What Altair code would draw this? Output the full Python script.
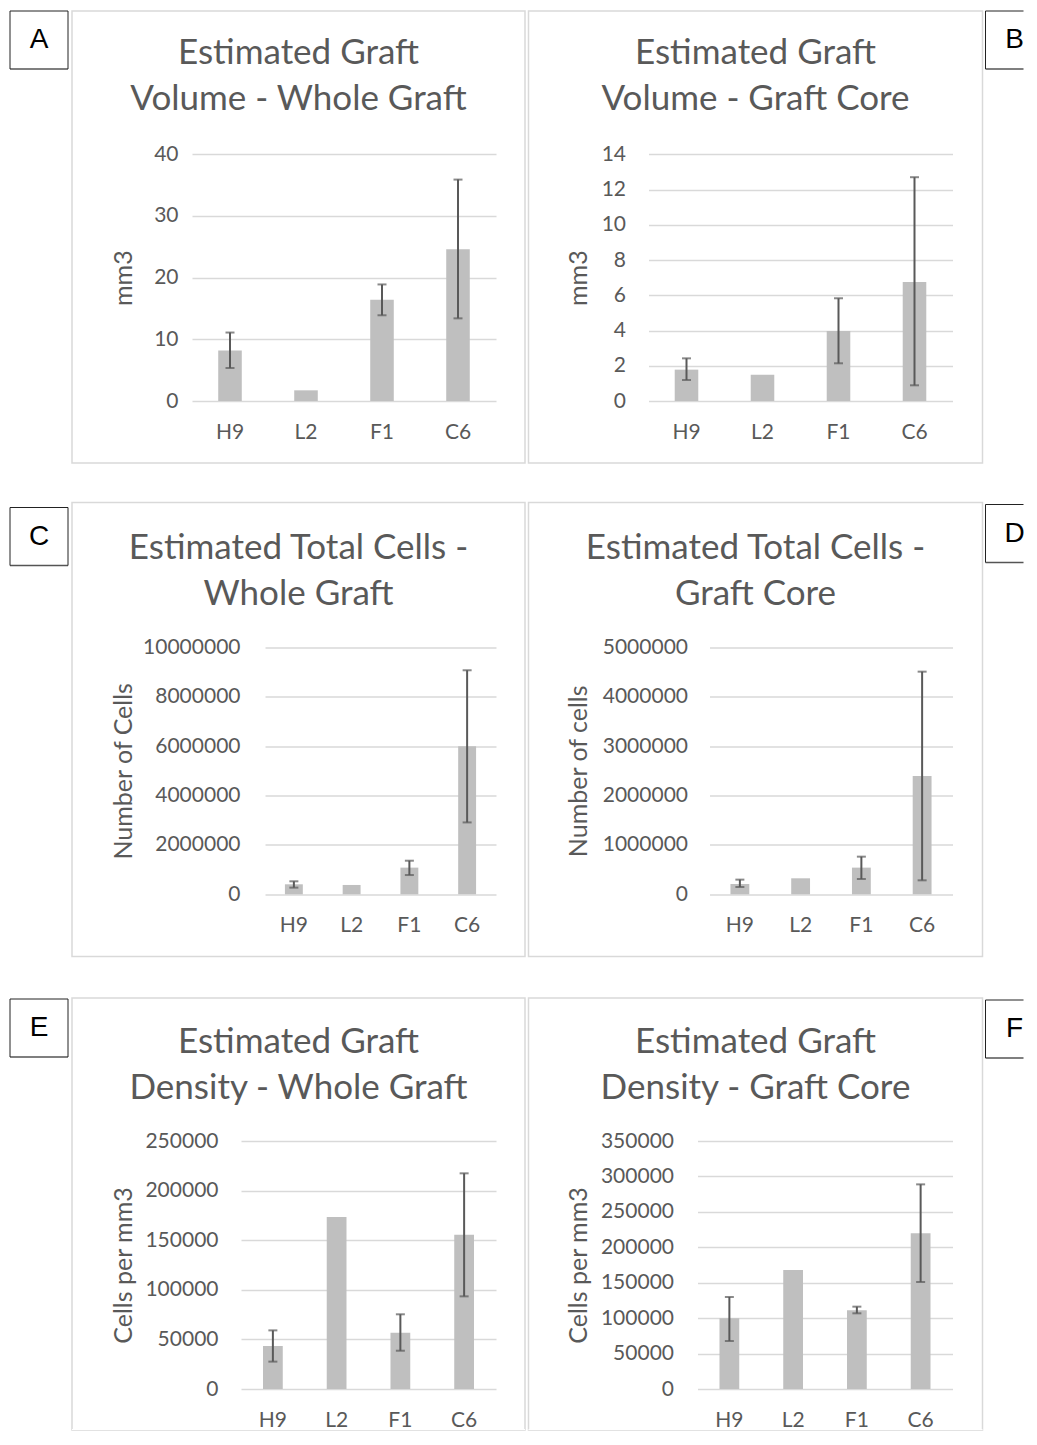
import altair as alt
import pandas as pd

# ---------------- data ----------------
categories = ["H9", "L2", "F1", "C6"]

vol_whole = [8.2, 1.73, 16.4, 24.6]
vol_whole_lo = [5.35, None, 13.9, 13.4]
vol_whole_hi = [11.1, None, 18.9, 35.9]

vol_core = [1.78, 1.49, 3.97, 6.75]
vol_core_lo = [1.19, None, 2.14, 0.89]
vol_core_hi = [2.42, None, 5.83, 12.7]

cells_whole = [405000, 378000, 1080000, 5990000]
cells_whole_lo = [270000, None, 780000, 2910000]
cells_whole_hi = [526000, None, 1360000, 9070000]

cells_core = [209000, 324000, 540000, 2395000]
cells_core_lo = [148000, None, 310000, 283000]
cells_core_hi = [297000, None, 762000, 4507000]

dens_whole = [43300, 173400, 56800, 155600]
dens_whole_lo = [27600, None, 38600, 93400]
dens_whole_hi = [59100, None, 75300, 217400]

dens_core = [99700, 167900, 111000, 219700]
dens_core_lo = [67700, None, 106800, 151000]
dens_core_hi = [129800, None, 116200, 288800]

ticks_vol_whole = [0, 10, 20, 30, 40]
ticks_vol_core = [0, 2, 4, 6, 8, 10, 12, 14]
ticks_cells_whole = [0, 2000000, 4000000, 6000000, 8000000, 10000000]
ticks_cells_core = [0, 1000000, 2000000, 3000000, 4000000, 5000000]
ticks_dens_whole = [0, 50000, 100000, 150000, 200000, 250000]
ticks_dens_core = [0, 50000, 100000, 150000, 200000, 250000, 300000, 350000]

titles = {
    "A": ["Estimated Graft", "Volume - Whole Graft"],
    "B": ["Estimated Graft", "Volume - Graft Core"],
    "C": ["Estimated Total Cells -", "Whole Graft"],
    "D": ["Estimated Total Cells -", "Graft Core"],
    "E": ["Estimated Graft", "Density - Whole Graft"],
    "F": ["Estimated Graft", "Density - Graft Core"],
}
ytitles = {"A": "mm3", "B": "mm3", "C": "Number of Cells", "D": "Number of cells",
           "E": "Cells per mm3", "F": "Cells per mm3"}

# ---------------- style ----------------
FONT = "Lato"
TXT = "#595959"
GRID = "#d9d9d9"
BAR = "#bfbfbf"
ERR = "#595959"
BOX = "#222222"

# layout per panel (pixels relative to panel box)
layout = {
    "A": dict(w=453, h=452, gx0=120, gx1=424, lab=106, tx=51, y0=390, y1=143.3, ty=42, cut=False),
    "B": dict(w=454, h=452, gx0=120, gx1=424, lab=97, tx=50, y0=390, y1=143.3, ty=42, cut=False),
    "C": dict(w=453, h=454, gx0=193, gx1=424, lab=168, tx=51, y0=391.8, y1=144.8, ty=45.5, cut=False),
    "D": dict(w=454, h=454, gx0=181, gx1=424, lab=159, tx=50, y0=391.8, y1=144.8, ty=45.5, cut=False),
    "E": dict(w=453, h=432, gx0=169, gx1=424, lab=146, tx=51, y0=391, y1=143, ty=44, cut=True),
    "F": dict(w=454, h=432, gx0=169, gx1=424, lab=145, tx=50, y0=391, y1=143, ty=44, cut=True),
}


def panel(key, vals, lo, hi, ticks):
    L = layout[key]
    df = pd.DataFrame({"cat": categories, "v": vals, "lo": lo, "hi": hi})
    xscale = alt.Scale(domain=categories, range=[L["gx0"], L["gx1"]],
                       paddingInner=0.69, paddingOuter=0.345)
    xaxis = alt.Axis(title=None, orient="bottom", offset=L["y0"] - L["h"],
                     labelPadding=31, labelBaseline="middle", ticks=False,
                     domain=False, grid=False, labelAngle=0, labelFont=FONT,
                     labelFontSize=21, labelColor=TXT)
    yscale = alt.Scale(domain=[ticks[0], ticks[-1]], range=[L["y0"], L["y1"]],
                       nice=False, zero=True)
    yaxis = alt.Axis(values=ticks, format="d", offset=-L["gx0"],
                     labelPadding=L["gx0"] - L["lab"], ticks=False, domain=False,
                     grid=True, gridColor=GRID, gridWidth=1.3, labelFont=FONT,
                     labelFontSize=21, labelColor=TXT, labelOverlap=False,
                     labelFlush=False,
                     title=ytitles[key], titleFont=FONT, titleFontSize=25,
                     titleFontWeight="normal", titleColor=TXT, titleAngle=270,
                     titleX=L["tx"] - L["gx0"], titleY=(L["y0"] + L["y1"]) / 2,
                     titleAlign="center", titleBaseline="middle")
    x = alt.X("cat:N", sort=categories, scale=xscale, axis=xaxis)
    base = alt.Chart(df)
    bars = base.mark_bar(color=BAR).encode(
        x=x, y=alt.Y("v:Q", scale=yscale, axis=yaxis))
    err = base.transform_filter("isValid(datum.lo)")
    rule = err.mark_rule(color=ERR, strokeWidth=2).encode(
        x=x, y=alt.Y("lo:Q", scale=yscale, axis=yaxis), y2="hi:Q")
    cap_lo = err.mark_tick(color=ERR, size=9, thickness=2).encode(
        x=x, y=alt.Y("lo:Q", scale=yscale, axis=yaxis))
    cap_hi = err.mark_tick(color=ERR, size=9, thickness=2).encode(
        x=x, y=alt.Y("hi:Q", scale=yscale, axis=yaxis))
    ttl = alt.Chart(pd.DataFrame({"t": [0]})).mark_text(
        text=titles[key], font=FONT, fontSize=35, color=TXT, lineHeight=46,
        baseline="middle", align="center").encode(
        x=alt.value(L["w"] / 2), y=alt.value(L["ty"]))
    layers = [bars, rule, cap_lo, cap_hi, ttl]
    if L["cut"]:
        # the reference image is cropped through the bottom edge of this row
        cover = alt.Chart(pd.DataFrame({"t": [0]})).mark_rect(
            color="white").encode(
            x=alt.value(0), x2=alt.value(L["w"]),
            y=alt.value(L["h"] - 1), y2=alt.value(L["h"]))
        layers.append(cover)
    return alt.layer(*layers).properties(
        width=L["w"], height=L["h"],
        view=alt.ViewBackground(stroke=GRID, strokeWidth=1.5))


def letter(ch, w, off, tx, open_right=False, bh=58):
    base = alt.Chart(pd.DataFrame({"letter": [ch]}))
    txt = base.mark_text(font="Liberation Sans", fontSize=28, color="black").encode(
        text="letter:N", x=alt.value(tx), y=alt.value(off + bh / 2))
    top = base.mark_rule(color=BOX, strokeWidth=1).encode(
        x=alt.value(0), x2=alt.value(w), y=alt.value(off))
    bot = base.mark_rule(color="#555555", strokeWidth=1.5).encode(
        x=alt.value(0), x2=alt.value(w), y=alt.value(off + bh))
    left = base.mark_rule(color=BOX, strokeWidth=1).encode(
        x=alt.value(0), y=alt.value(off), y2=alt.value(off + bh))
    layers = [txt, top, bot, left]
    if not open_right:
        right = base.mark_rule(color=BOX, strokeWidth=1).encode(
            x=alt.value(w), y=alt.value(off), y2=alt.value(off + bh))
        layers.append(right)
    return alt.layer(*layers).properties(
        width=w, height=off + bh,
        view=alt.ViewBackground(stroke="transparent"))


pA = panel("A", vol_whole, vol_whole_lo, vol_whole_hi, ticks_vol_whole)
pB = panel("B", vol_core, vol_core_lo, vol_core_hi, ticks_vol_core)
pC = panel("C", cells_whole, cells_whole_lo, cells_whole_hi, ticks_cells_whole)
pD = panel("D", cells_core, cells_core_lo, cells_core_hi, ticks_cells_core)
pE = panel("E", dens_whole, dens_whole_lo, dens_whole_hi, ticks_dens_whole)
pF = panel("F", dens_core, dens_core_lo, dens_core_hi, ticks_dens_core)


def row(la, loff, pl, pr, lr, roff):
    return alt.hconcat(
        alt.hconcat(letter(la, 58, loff, 29), pl, spacing=1),
        alt.hconcat(pr, letter(lr, 38, roff, 29, open_right=True), spacing=0),
        spacing=1.5)


chart = alt.vconcat(
    alt.vconcat(
        row("A", 0, pA, pB, "B", 0),
        row("C", 5, pC, pD, "D", 2),
        spacing=37.5,
    ),
    row("E", 1, pE, pF, "F", 2),
    spacing=39,
).properties(
    padding={"left": 0, "top": 2, "right": 0, "bottom": 0}
).configure(background="white")

chart.save("out.html", embed_options={"renderer": "svg", "actions": False})
